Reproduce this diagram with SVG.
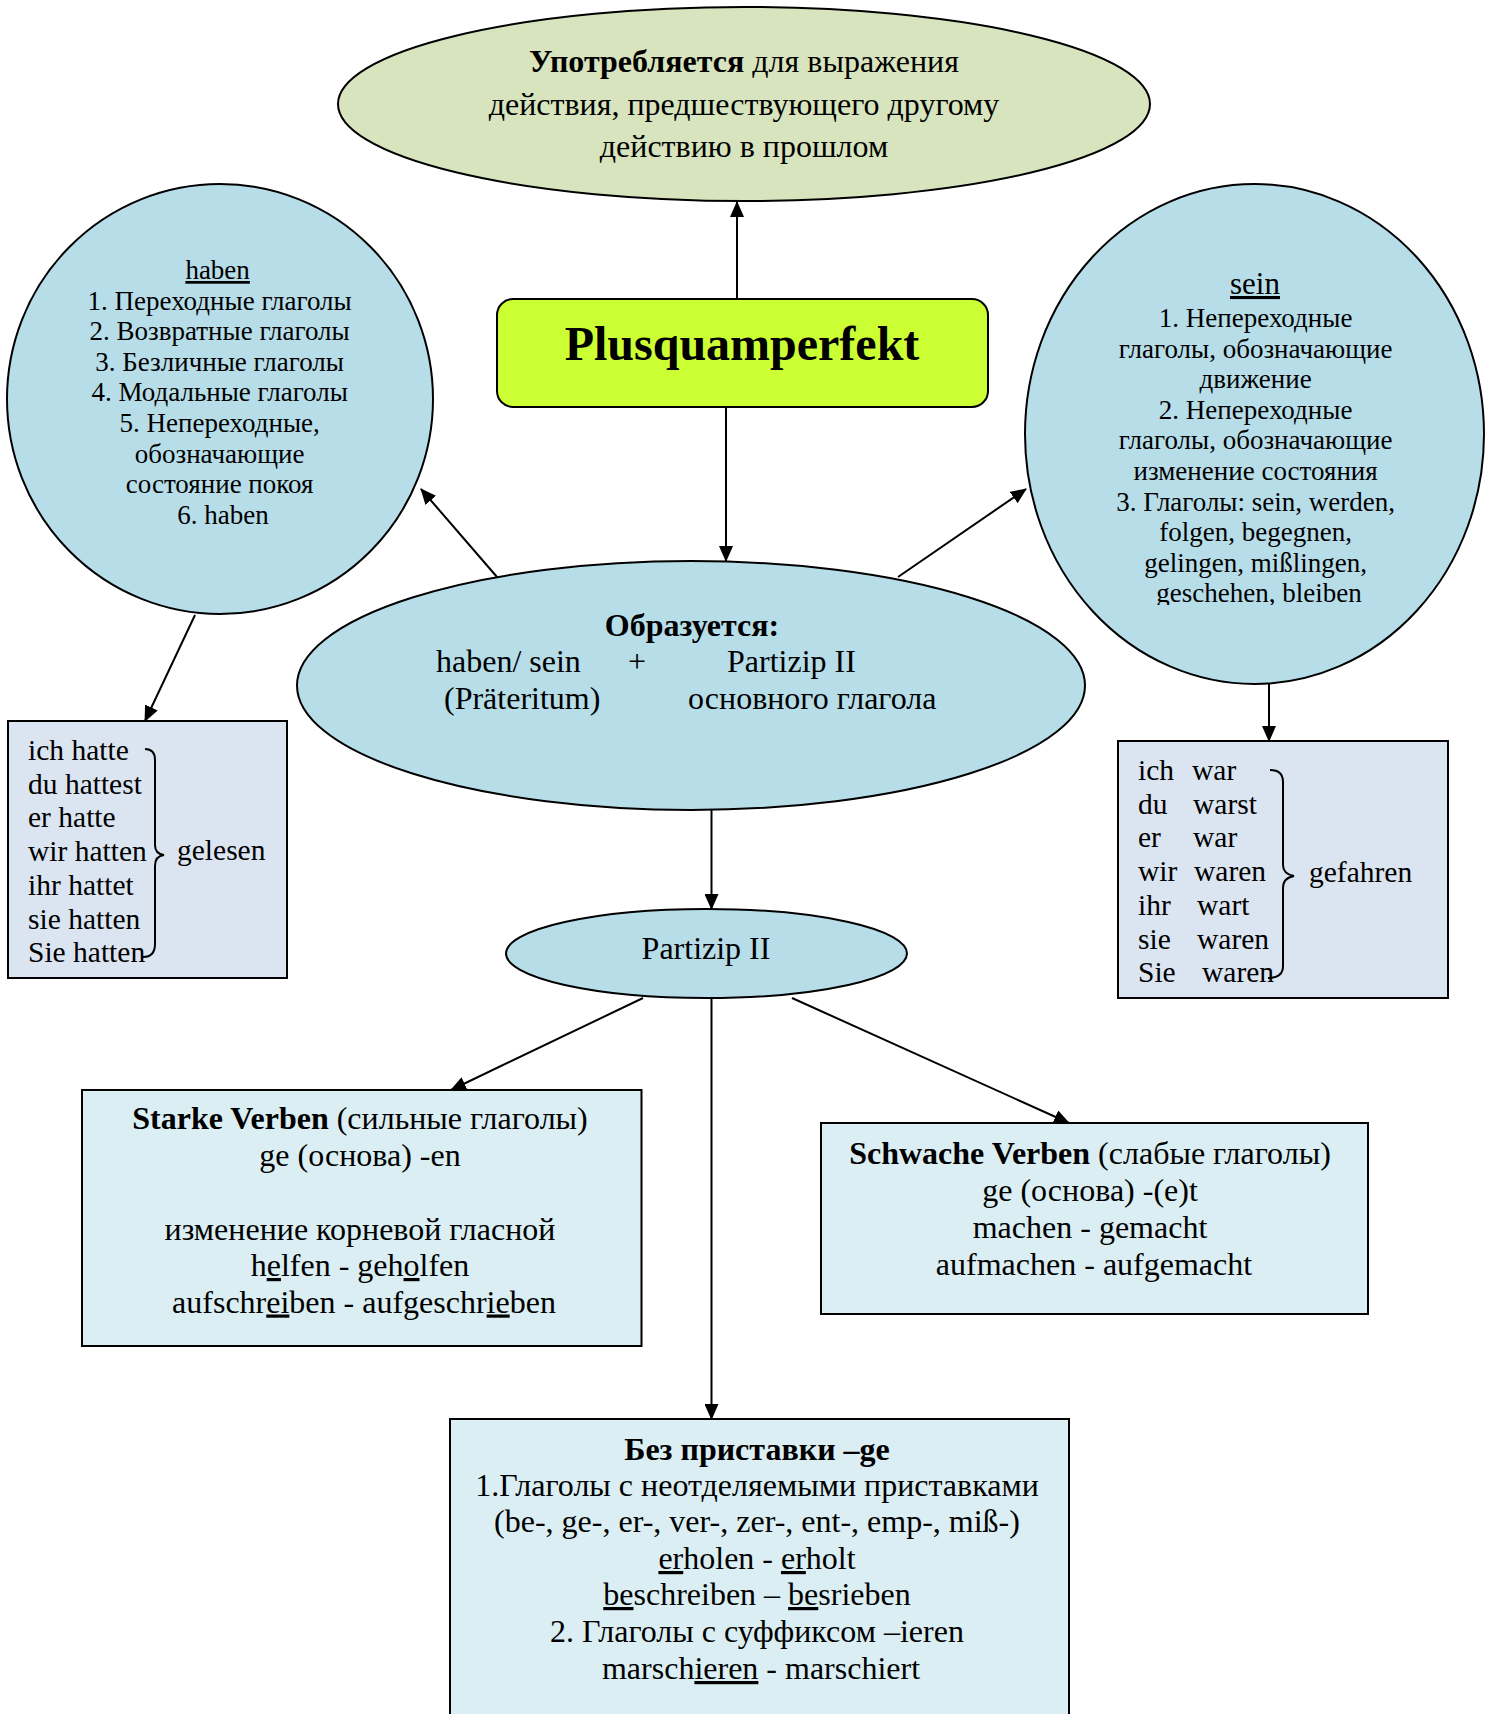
<svg xmlns="http://www.w3.org/2000/svg" width="1494" height="1714" viewBox="0 0 1494 1714">
<style>
text{font-family:"Liberation Serif","Times New Roman",serif;fill:#000}
.c{text-anchor:middle}
.b{font-weight:bold}
.u{text-decoration:underline}
.s{stroke:#000;stroke-width:2}
.ln{stroke:#000;stroke-width:2;fill:none}
</style>
<defs>
<marker id="ah" markerUnits="userSpaceOnUse" markerWidth="16" markerHeight="14" refX="15" refY="7" orient="auto">
<path d="M0,0 L16,7 L0,14 z" fill="#000"/>
</marker>
<clipPath id="seinclip"><rect x="1025" y="184" width="460" height="421"/></clipPath>
</defs>
<rect width="1494" height="1714" fill="#fff"/>

<g id="connectors">
<line class="ln" x1="737" y1="299" x2="737" y2="202" marker-end="url(#ah)"/>
<line class="ln" x1="726" y1="407" x2="726" y2="561" marker-end="url(#ah)"/>
<line class="ln" x1="497" y1="577" x2="421" y2="489" marker-end="url(#ah)"/>
<line class="ln" x1="898" y1="577" x2="1026" y2="489" marker-end="url(#ah)"/>
<line class="ln" x1="195" y1="615" x2="145" y2="721" marker-end="url(#ah)"/>
<line class="ln" x1="1269" y1="684" x2="1269" y2="741" marker-end="url(#ah)"/>
<line class="ln" x1="711.5" y1="810" x2="711.5" y2="909" marker-end="url(#ah)"/>
<line class="ln" x1="643" y1="998" x2="451" y2="1090" marker-end="url(#ah)"/>
<line class="ln" x1="792" y1="998" x2="1069" y2="1123" marker-end="url(#ah)"/>
<line class="ln" x1="711.5" y1="998" x2="711.5" y2="1419" marker-end="url(#ah)"/>
</g>

<g id="usage">
<ellipse cx="744" cy="104" rx="406" ry="97" fill="#d7e4bd" class="s"/>
<text class="c" x="744" y="72" font-size="32"><tspan class="b">Употребляется</tspan> для выражения</text>
<text class="c" x="744" y="115" font-size="32">действия, предшествующего другому</text>
<text class="c" x="744" y="157" font-size="32">действию в прошлом</text>
</g>

<g id="plusquamperfekt">
<rect x="497" y="299" width="491" height="108" rx="16" fill="#ccff33" class="s"/>
<text class="c b" x="742" y="360" font-size="48">Plusquamperfekt</text>
</g>

<g id="haben">
<ellipse cx="220" cy="399" rx="213" ry="215" fill="#b7dde8" class="s"/>
<text class="c" x="223" font-size="27">
<tspan x="221" y="279" class="u">haben</tspan>
<tspan x="223" y="309.6">1. Переходные глаголы</tspan>
<tspan x="223" y="340.2">2. Возвратные глаголы</tspan>
<tspan x="223" y="370.8">3. Безличные глаголы</tspan>
<tspan x="223" y="401.4">4. Модальные глаголы</tspan>
<tspan x="223" y="432">5. Непереходные,</tspan>
<tspan x="223" y="462.6">обозначающие</tspan>
<tspan x="223" y="493.2">состояние покоя</tspan>
<tspan x="223" y="523.8">6. haben</tspan>
</text>
</g>

<g id="sein">
<ellipse cx="1254.5" cy="434" rx="229.5" ry="250" fill="#b7dde8" class="s"/>
<g clip-path="url(#seinclip)">
<text class="c u" x="1255" y="294" font-size="31">sein</text>
<text class="c" x="1259" font-size="27">
<tspan x="1259" y="327">1. Непереходные</tspan>
<tspan x="1259" y="357.6">глаголы, обозначающие</tspan>
<tspan x="1259" y="388.2">движение</tspan>
<tspan x="1259" y="418.8">2. Непереходные</tspan>
<tspan x="1259" y="449.4">глаголы, обозначающие</tspan>
<tspan x="1259" y="480">изменение состояния</tspan>
<tspan x="1259" y="510.6">3. Глаголы: sein, werden,</tspan>
<tspan x="1259" y="541.2">folgen, begegnen,</tspan>
<tspan x="1259" y="571.8">gelingen, mißlingen,</tspan>
<tspan x="1259" y="602.4">geschehen, bleiben</tspan>
</text>
</g>
</g>

<g id="formation">
<ellipse cx="691" cy="685.5" rx="394" ry="124.5" fill="#b7dde8" class="s"/>
<text class="c b" x="692" y="636" font-size="32">Образуется:</text>
<text x="436" y="672" font-size="32">haben/ sein</text>
<text class="c" x="637" y="672" font-size="32">+</text>
<text x="727" y="672" font-size="32">Partizip II</text>
<text x="444" y="709" font-size="32">(Präteritum)</text>
<text x="688" y="709" font-size="32">основного глагола</text>
</g>

<g id="haben-box">
<rect x="8" y="721" width="279" height="257" fill="#dbe5f1" class="s"/>
<text x="28" font-size="29.5">
<tspan x="28" y="760">ich hatte</tspan>
<tspan x="28" y="793.7">du hattest</tspan>
<tspan x="28" y="827.4">er hatte</tspan>
<tspan x="28" y="861.1">wir hatten</tspan>
<tspan x="28" y="894.8">ihr hattet</tspan>
<tspan x="28" y="928.5">sie hatten</tspan>
<tspan x="28" y="962.2">Sie hatten</tspan>
</text>
<path class="ln" stroke-width="1.5" d="M145,749 Q155,749 155,760 L155,845 Q155,854 164,855 Q155,856 155,866 L155,944 Q155,957 143,957"/>
<text x="177" y="860" font-size="29.5">gelesen</text>
</g>

<g id="sein-box">
<rect x="1118" y="741" width="330" height="257" fill="#dbe5f1" class="s"/>
<text font-size="29.5">
<tspan x="1138" y="780">ich</tspan><tspan x="1192" y="780">war</tspan>
<tspan x="1138" y="813.7">du</tspan><tspan x="1193" y="813.7">warst</tspan>
<tspan x="1138" y="847.4">er</tspan><tspan x="1193" y="847.4">war</tspan>
<tspan x="1138" y="881.1">wir</tspan><tspan x="1194" y="881.1">waren</tspan>
<tspan x="1138" y="914.8">ihr</tspan><tspan x="1197" y="914.8">wart</tspan>
<tspan x="1138" y="948.5">sie</tspan><tspan x="1197" y="948.5">waren</tspan>
<tspan x="1138" y="982.2">Sie</tspan><tspan x="1202" y="982.2">waren</tspan>
</text>
<path class="ln" stroke-width="1.5" d="M1270,770 Q1283,770 1283,782 L1283,865 Q1283,874 1294,876 Q1283,878 1283,888 L1283,966 Q1283,978 1268,978"/>
<text x="1309" y="882" font-size="29.5">gefahren</text>
</g>

<g id="partizip">
<ellipse cx="706.5" cy="953.5" rx="200.5" ry="44.5" fill="#b7dde8" class="s"/>
<text class="c" x="706" y="959" font-size="32">Partizip II</text>
</g>

<g id="starke">
<rect x="82" y="1090" width="559.5" height="256" fill="#daeef3" class="s"/>
<text class="c" font-size="32">
<tspan x="364" y="1129"><tspan class="b">Starke Verben</tspan> (сильные глаголы)</tspan>
<tspan x="364" y="1166">ge (основа) -en</tspan>
<tspan x="364" y="1240">изменение корневой гласной</tspan>
<tspan x="364" y="1276">h<tspan class="u">e</tspan>lfen - geh<tspan class="u">o</tspan>lfen</tspan>
<tspan x="364" y="1312.5">aufschr<tspan class="u">ei</tspan>ben - aufgeschr<tspan class="u">ie</tspan>ben</tspan>
</text>
</g>

<g id="schwache">
<rect x="821" y="1123" width="547" height="191" fill="#daeef3" class="s"/>
<text class="c" font-size="32">
<tspan x="1094" y="1164"><tspan class="b">Schwache Verben</tspan> (слабые глаголы)</tspan>
<tspan x="1094" y="1201">ge (основа) -(e)t</tspan>
<tspan x="1094" y="1238">machen - gemacht</tspan>
<tspan x="1094" y="1275">aufmachen - aufgemacht</tspan>
</text>
</g>

<g id="ohne-ge">
<rect x="450" y="1419" width="619" height="310" fill="#daeef3" class="s"/>
<text class="c" font-size="32">
<tspan x="761" y="1460" class="b">Без приставки –ge</tspan>
<tspan x="761" y="1496">1.Глаголы с неотделяемыми приставками</tspan>
<tspan x="761" y="1532">(be-, ge-, er-, ver-, zer-, ent-, emp-, miß-)</tspan>
<tspan x="761" y="1569"><tspan class="u">er</tspan>holen - <tspan class="u">er</tspan>holt</tspan>
<tspan x="761" y="1605"><tspan class="u">be</tspan>schreiben – <tspan class="u">be</tspan>srieben</tspan>
<tspan x="761" y="1642">2. Глаголы с суффиксом –ieren</tspan>
<tspan x="761" y="1679">marsch<tspan class="u">ieren</tspan> - marschiert</tspan>
</text>
</g>
</svg>
